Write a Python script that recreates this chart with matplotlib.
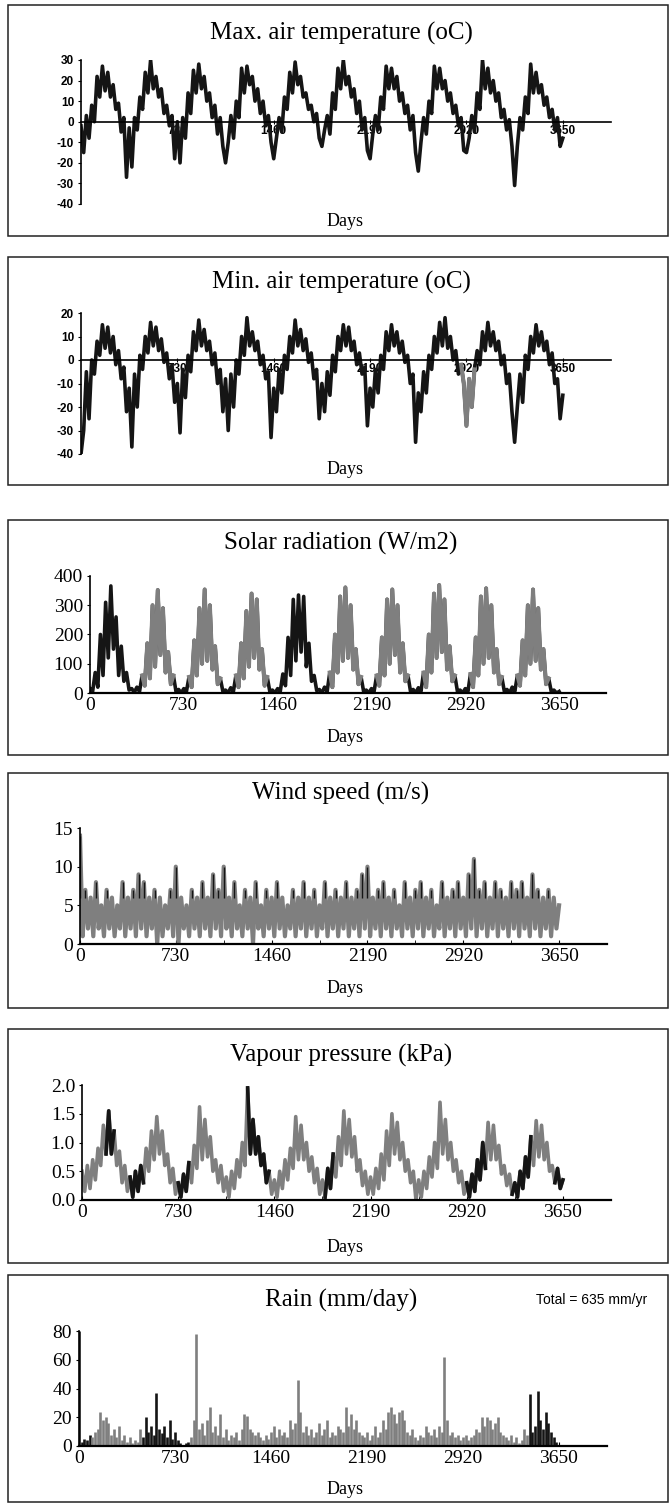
import matplotlib.pyplot as plt
import numpy as np
from matplotlib.patches import Rectangle

# 数据: 10 年逐日数据的读数, 约每 20 天一个点 (181 点), 温度/辐射/风速/水汽压为高低交替读取
tmax = [-2, -15, 3, -8, 8, 0, 22, 12, 27, 15, 24, 12, 18, 6, 9, -5, 2, -27,
        -3, -22, 2, -4, 12, 6, 24, 14, 30, 16, 22, 12, 16, 4, 8, -2, 3, -18,
        0, -20, 2, -8, 14, 4, 25, 14, 28, 16, 22, 10, 14, 2, 8, -6, 2, -12,
        -20, -10, 3, -8, 10, 2, 26, 14, 27, 18, 22, 10, 16, 4, 10, -2, 3, -10,
        -18, -8, 2, -5, 12, 6, 24, 14, 29, 18, 22, 12, 14, 6, 8, 0, 4, -8,
        -12, -4, 3, -6, 14, 6, 26, 16, 30, 18, 22, 12, 16, 4, 10, -4, 2, -14,
        -18, -6, 3, -4, 12, 6, 27, 16, 26, 16, 22, 10, 14, 4, 8, -4, 3, -15,
        -24, -10, 2, -6, 10, 4, 27, 16, 26, 16, 20, 10, 14, 4, 8, -2, 2, -14,
        -15, -8, 3, -5, 14, 6, 30, 16, 26, 14, 20, 10, 14, 2, 6, -4, 1, -12,
        -31, -12, 2, -4, 12, 4, 28, 14, 24, 14, 18, 8, 12, 2, 6, -4, 2, -12,
        -8]

tmin = [-40, -30, -5, -25, 0, -6, 8, 2, 15, 5, 14, 3, 10, -2, 4, -8, -3, -22,
        -12, -37, -6, -20, 2, -4, 10, 3, 16, 6, 14, 4, 9, -1, 3, -8, -2, -18,
        -10, -31, -4, -16, 2, -5, 12, 4, 17, 6, 13, 4, 8, -2, 3, -10, -4, -22,
        -8, -30, -6, -20, 0, -6, 10, 2, 18, 6, 12, 4, 8, -2, 2, -8, -5, -33,
        -12, -22, -4, -14, 2, -4, 10, 3, 17, 6, 13, 4, 9, -1, 3, -8, -4, -25,
        -10, -22, -5, -15, 2, -5, 10, 4, 15, 6, 14, 4, 8, -2, 3, -6, -3, -28,
        -12, -20, -4, -14, 2, -4, 12, 4, 15, 6, 12, 3, 8, -1, 2, -10, -6, -35,
        -14, -22, -5, -14, 2, -4, 10, 3, 16, 6, 18, 5, 10, 0, 4, -6, -2, -10,
        -28, -8, -20, -4, 4, -2, 12, 4, 16, 6, 12, 4, 8, -2, 2, -10, -6, -22,
        -35, -20, -6, -18, 2, -4, 10, 3, 15, 6, 12, 4, 8, -2, 3, -10, -8, -25,
        -15]

solar = [15, 5, 70, 20, 200, 60, 310, 120, 366, 150, 260, 60, 160, 40, 70, 10, 15, 2,
         20, 5, 60, 25, 170, 50, 300, 90, 352, 130, 290, 70, 140, 30, 60, 5, 12, 0,
         15, 5, 55, 20, 180, 60, 290, 100, 354, 110, 300, 80, 160, 30, 50, 5, 10, 0,
         18, 4, 60, 20, 170, 50, 280, 90, 340, 120, 320, 80, 150, 25, 55, 5, 10, 0,
         15, 5, 65, 25, 190, 60, 320, 110, 335, 140, 330, 90, 170, 40, 60, 8, 12, 0,
         20, 5, 70, 20, 200, 70, 330, 110, 361, 120, 300, 80, 150, 30, 55, 5, 10, 0,
         15, 5, 60, 25, 190, 60, 320, 100, 354, 130, 300, 70, 170, 40, 60, 5, 12, 0,
         18, 5, 70, 20, 200, 70, 340, 120, 369, 140, 320, 80, 160, 40, 60, 5, 10, 0,
         15, 4, 65, 20, 190, 60, 330, 100, 358, 120, 300, 70, 150, 30, 55, 5, 12, 0,
         20, 5, 60, 25, 180, 60, 300, 100, 354, 110, 290, 80, 150, 30, 50, 5, 10, 0,
         5]

wind = [14, 1, 7, 2, 6, 1, 8, 2, 5, 1, 7, 2, 6, 1, 5, 2, 8, 1, 6, 2,
        7, 1, 9, 2, 8, 1, 6, 2, 7, 0, 6, 1, 5, 2, 7, 1, 10, 0, 6, 2,
        5, 1, 7, 2, 6, 1, 8, 2, 6, 1, 9, 2, 7, 1, 10, 2, 6, 1, 8, 2,
        5, 1, 7, 2, 6, 0, 8, 2, 5, 1, 7, 2, 6, 1, 8, 2, 6, 1, 5, 2,
        7, 1, 6, 2, 8, 1, 6, 2, 7, 1, 5, 2, 8, 1, 6, 2, 7, 1, 6, 2,
        8, 1, 6, 2, 7, 1, 9, 2, 10, 1, 6, 2, 7, 1, 8, 2, 6, 1, 7, 2,
        5, 1, 8, 2, 6, 1, 7, 2, 8, 1, 6, 2, 7, 1, 5, 2, 8, 1, 6, 2,
        7, 1, 8, 2, 6, 1, 9, 2, 11, 1, 7, 2, 8, 1, 6, 2, 8, 1, 7, 2,
        6, 1, 8, 2, 7, 1, 8, 2, 6, 1, 9, 2, 7, 1, 6, 2, 7, 1, 6, 2,
        5]

vapour = [0.5, 0.15, 0.6, 0.2, 0.7, 0.35, 0.9, 0.6, 1.3, 0.8, 1.55, 0.8, 1.2, 0.6, 0.85, 0.3, 0.6, 0.15,
          0.4, 0.05, 0.5, 0.15, 0.6, 0.3, 0.9, 0.5, 1.2, 0.7, 1.45, 0.8, 1.2, 0.6, 0.8, 0.3, 0.55, 0.1,
          0.3, 0.05, 0.45, 0.15, 0.65, 0.3, 0.95, 0.55, 1.62, 0.7, 1.4, 0.75, 1.1, 0.5, 0.7, 0.3, 0.6, 0.15,
          0.4, 0.05, 0.5, 0.2, 0.7, 0.4, 1.0, 0.6, 1.95, 0.8, 1.4, 0.8, 1.1, 0.6, 0.8, 0.3, 0.5, 0.1,
          0.35, 0.05, 0.5, 0.2, 0.7, 0.35, 0.9, 0.55, 1.45, 0.7, 1.3, 0.7, 1.0, 0.5, 0.75, 0.3, 0.55, 0.1,
          0.35, 0.05, 0.55, 0.2, 0.8, 0.4, 1.1, 0.6, 1.55, 0.8, 1.4, 0.75, 1.1, 0.5, 0.7, 0.25, 0.5, 0.1,
          0.4, 0.1, 0.55, 0.2, 0.8, 0.35, 1.2, 0.6, 1.5, 0.8, 1.35, 0.7, 1.0, 0.5, 0.7, 0.3, 0.5, 0.0,
          0.35, 0.05, 0.5, 0.2, 0.75, 0.4, 1.0, 0.55, 1.7, 0.8, 1.4, 0.7, 1.0, 0.5, 0.7, 0.3, 0.5, 0.1,
          0.3, 0.05, 0.45, 0.15, 0.7, 0.35, 1.0, 0.55, 1.35, 0.7, 1.3, 0.7, 0.95, 0.45, 0.6, 0.25, 0.45, 0.1,
          0.3, 0.05, 0.5, 0.2, 0.75, 0.4, 1.1, 0.6, 1.38, 0.75, 1.3, 0.7, 1.0, 0.5, 0.6, 0.3, 0.55, 0.2,
          0.35]

rain = [80, 3, 5, 4, 8, 6, 10, 12, 24, 18, 20, 16, 8, 12, 6, 14, 4, 8, 3, 6,
        2, 4, 3, 12, 6, 20, 10, 14, 8, 37, 12, 9, 14, 6, 18, 5, 10, 4, 2, 1,
        2, 3, 6, 18, 78, 12, 16, 8, 18, 27, 10, 14, 8, 22, 6, 12, 4, 8, 6, 10,
        4, 12, 22, 21, 12, 10, 8, 10, 6, 4, 8, 5, 10, 14, 6, 12, 8, 10, 6, 18,
        12, 16, 46, 24, 10, 14, 8, 12, 6, 10, 16, 8, 12, 18, 6, 10, 8, 14, 12, 10,
        27, 14, 22, 12, 18, 10, 8, 6, 10, 4, 8, 14, 6, 10, 18, 12, 24, 27, 22, 16,
        24, 25, 18, 10, 8, 12, 6, 4, 8, 6, 14, 10, 8, 12, 6, 14, 10, 62, 18, 8,
        10, 6, 8, 4, 6, 8, 4, 6, 8, 12, 10, 20, 14, 20, 18, 12, 16, 20, 10, 8,
        6, 4, 8, 3, 6, 2, 4, 12, 8, 36, 10, 14, 38, 18, 12, 24, 16, 10, 6, 3,
        0]

# 颜色分段 (天)
tmin_gray_spans = [(2870, 2990)]
solar_gray_spans = [(405, 655), (770, 1020), (1135, 1385), (1865, 2115),
                    (2230, 2480), (2595, 2845), (2960, 3210), (3325, 3575)]
vapour_black_spans = [(180, 260), (349, 476), (722, 819), (1243, 1437),
                      (1838, 1919), (2906, 3068), (3262, 3407), (3585, 3650)]
rain_black_spans = [(0, 100), (467, 837), (3407, 3650)]

BLACK = '#151515'
GRAY = '#7f7f7f'

n = len(tmax)
days = np.linspace(0, 3650, n)


def in_spans(spans):
    mask = np.zeros(n, dtype=bool)
    for a, b in spans:
        mask |= (days >= a) & (days <= b)
    return mask


def masked(values, mask):
    return np.where(mask, np.asarray(values, dtype=float), np.nan)


plt.rcParams['font.family'] = ['Liberation Serif', 'DejaVu Serif']

fig = plt.figure(figsize=(6.69, 15.03), dpi=100)
W, H = 669.0, 1503.0

# 外框
for top, bottom in [(5, 236), (257, 485), (520, 755), (773, 1008), (1029, 1263), (1275, 1502)]:
    fig.add_artist(Rectangle((8 / W, 1 - bottom / H), 660 / W, (bottom - top) / H,
                             transform=fig.transFigure, fill=False, edgecolor='#222222', linewidth=1.1))

titles = ['Max. air temperature (oC)', 'Min. air temperature (oC)', 'Solar radiation (W/m2)',
          'Wind speed (m/s)', 'Vapour pressure (kPa)', 'Rain (mm/day)']
title_y = [33, 282, 543, 793, 1055, 1300]
days_y = [222, 470, 737, 989, 1248, 1490]
for t, ty, dy in zip(titles, title_y, days_y):
    fig.text(341 / W, 1 - ty / H, t, ha='center', va='center', fontsize=18)
    fig.text(345 / W, 1 - dy / H, 'Days', ha='center', va='center', fontsize=13)
fig.text(592 / W, 1 - 1300 / H, 'Total = 635 mm/yr', ha='center', va='center',
         fontsize=10, family=['Liberation Sans', 'DejaVu Sans'])

# 坐标轴 [left, top, width, height] (像素)
rects = [(81, 60, 530, 144), (81, 313, 530, 141), (90, 576, 516, 117),
         (80, 828, 527, 116), (82, 1085, 529, 115), (79, 1331, 528, 115)]
axes = [fig.add_axes([l / W, 1 - (t + h) / H, w / W, h / H]) for l, t, w, h in rects]

LW = 2.6  # 粗线, 让稀疏读数呈现逐日数据的密集带状

# --- 温度面板 ---
for ax, data, ymax in [(axes[0], tmax, 30), (axes[1], tmin, 20)]:
    ax.plot(days, data, color=BLACK, linewidth=LW)
    ax.set_xlim(0, 4015)
    ax.set_ylim(-40, ymax)
    ax.spines['top'].set_visible(False)
    ax.spines['right'].set_visible(False)
    ax.spines['bottom'].set_position(('data', 0))
    ax.spines['left'].set_linewidth(1.2)
    ax.spines['bottom'].set_linewidth(1.2)
    yt = list(range(-40, ymax + 1, 10))
    ax.set_yticks(yt)
    ax.set_yticklabels([str(v) for v in yt], fontsize=8.5, fontfamily='Liberation Sans', fontweight='bold')
    xt = [730, 1460, 2190, 2920, 3650]
    ax.set_xticks(xt)
    ax.set_xticklabels([str(v) for v in xt], fontsize=8.5, fontfamily='Liberation Sans', fontweight='bold')
    ax.tick_params(axis='y', direction='out', length=2, pad=3)
    ax.tick_params(axis='x', direction='inout', length=3, pad=1)

axes[1].plot(days, masked(tmin, in_spans(tmin_gray_spans)), color=GRAY, linewidth=LW + 0.3)


def style_bottom(ax, ymax, yt, ylabels):
    ax.set_xlim(0, 4015)
    ax.set_ylim(0, ymax)
    ax.spines['top'].set_visible(False)
    ax.spines['right'].set_visible(False)
    ax.spines['left'].set_linewidth(1.2)
    ax.spines['bottom'].set_linewidth(1.6)
    xt = [0, 730, 1460, 2190, 2920, 3650]
    ax.set_xticks(xt)
    ax.set_xticklabels([str(v) for v in xt], fontsize=14)
    ax.set_xticks([1095, 1825, 2555, 3285], minor=True)
    ax.set_yticks(yt)
    ax.set_yticklabels(ylabels, fontsize=14)
    ax.tick_params(axis='x', which='both', direction='in', length=3, pad=3)
    ax.tick_params(axis='y', direction='out', length=2, pad=3)


# --- 太阳辐射 ---
ax = axes[2]
ax.plot(days, solar, color=BLACK, linewidth=LW)
ax.plot(days, masked(solar, in_spans(solar_gray_spans)), color=GRAY, linewidth=LW + 0.3)
style_bottom(ax, 400, [0, 100, 200, 300, 400], ['0', '100', '200', '300', '400'])

# --- 风速 ---
ax = axes[3]
ax.plot(days, wind, color=GRAY, linewidth=3.0)
w = np.asarray(wind, dtype=float)
spikes = w >= 7
ax.vlines(days[spikes], 6, w[spikes], colors=BLACK, linewidth=1.0)
style_bottom(ax, 15, [0, 5, 10, 15], ['0', '5', '10', '15'])

# --- 水汽压 ---
ax = axes[4]
ax.plot(days, vapour, color=GRAY, linewidth=LW)
ax.plot(days, masked(vapour, in_spans(vapour_black_spans)), color=BLACK, linewidth=LW)
style_bottom(ax, 2.0, [0, 0.5, 1.0, 1.5, 2.0], ['0.0', '0.5', '1.0', '1.5', '2.0'])

# --- 降雨 ---
ax = axes[5]
rain_black = in_spans(rain_black_spans)
ax.vlines(days, 0, rain, colors=[BLACK if b else GRAY for b in rain_black], linewidth=1.9)
style_bottom(ax, 80, [0, 20, 40, 60, 80], ['0', '20', '40', '60', '80'])

fig.savefig('out.png', dpi=100)
